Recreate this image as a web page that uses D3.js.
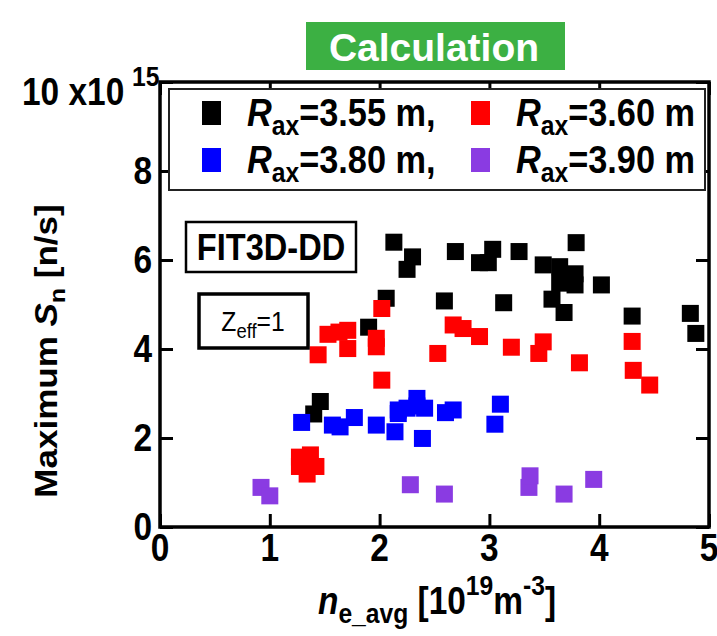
<!DOCTYPE html>
<html>
<head>
<meta charset="utf-8">
<script src="https://cdn.jsdelivr.net/npm/d3@7"></script>
<style>
  body { margin: 0; background: #fff; }
  svg { display: block; }
  text { font-family: "Liberation Sans", Arial, sans-serif; }
</style>
</head>
<body>
<div class="chart"></div>
<script>
// data: ne_avg [1e19 m^-3] vs maximum Sn [1e15 n/s]
var ne355 = [1.40,1.46,1.90,2.06,2.13,2.25,2.30,2.59,2.69,2.91,2.99,3.03,3.13,3.27,3.49,3.57,3.64,3.64,3.68,3.78,3.78,3.79,4.02,4.30,4.83,4.88];
var sn355 = [2.54,2.82,4.49,5.14,6.40,5.79,6.07,5.08,6.19,5.94,5.94,6.24,5.04,6.19,5.89,5.12,5.85,5.48,4.82,5.69,5.44,6.39,5.44,4.74,4.80,4.35];

var ne360 = [1.27,1.37,1.42,1.34,1.27,1.44,1.53,1.63,1.71,1.71,1.97,1.97,2.02,2.02,2.53,2.67,2.76,2.91,3.20,3.45,3.49,3.82,4.30,4.31,4.46];
var sn360 = [1.57,1.62,1.36,1.19,1.36,3.87,4.33,4.38,4.42,4.01,4.24,4.05,4.91,3.30,3.90,4.54,4.46,4.28,4.04,3.90,4.16,3.69,4.17,3.52,3.19];

var ne380 = [1.29,1.57,1.64,1.77,1.97,2.14,2.17,2.17,2.25,2.34,2.34,2.41,2.39,2.60,2.67,3.05,3.10];
var sn380 = [2.35,2.29,2.25,2.46,2.29,2.14,2.55,2.63,2.67,2.89,2.72,2.67,1.99,2.57,2.63,2.31,2.76];

var ne390 = [0.92,1.00,2.28,2.59,3.36,3.37,3.68,3.95];
var sn390 = [0.89,0.70,0.95,0.74,0.89,1.15,0.74,1.07];

var seriesNames = ["3.55 m,", "3.60 m", "3.80 m,", "3.90 m"];
var seriesColors = ["#000000", "#ff0000", "#0000ff", "#8a3be2"];
var xTicks = [0, 1, 2, 3, 4, 5];
var yTicks = [0, 2, 4, 6, 8, 10];

var width = 717, height = 636;
var pLeft = 160, pRight = 709, pTop = 82, pBottom = 527;
var sq = 0.88; // the figure's lettering is a bit narrow

var svg = d3.select(".chart")
    .append("svg")
    .attr("width", width)
    .attr("height", height);

function put(t, px, py) {
    return t.attr("transform", "translate(" + px + "," + py + ") scale(" + sq + ",1)");
}

var x = d3.scaleLinear().domain([0, 5]).range([pLeft, pRight]);
var y = d3.scaleLinear().domain([0, 10]).range([pBottom, pTop]);

// ticks point inward on all four sides
var tickLen = 13;
svg.append("g")
    .attr("transform", "translate(0," + pBottom + ")")
    .call(d3.axisBottom(x).tickValues(xTicks).tickSize(-tickLen).tickFormat(""));
svg.append("g")
    .attr("transform", "translate(0," + pTop + ")")
    .call(d3.axisTop(x).tickValues(xTicks).tickSize(-tickLen).tickFormat(""));
svg.append("g")
    .attr("transform", "translate(" + pLeft + ",0)")
    .call(d3.axisLeft(y).tickValues(yTicks).tickSize(-tickLen).tickFormat(""));
svg.append("g")
    .attr("transform", "translate(" + pRight + ",0)")
    .call(d3.axisRight(y).tickValues(yTicks).tickSize(-tickLen).tickFormat(""));
svg.selectAll(".domain").remove();
svg.selectAll(".tick line").attr("stroke", "#000").attr("stroke-width", 3);

svg.append("rect")
    .attr("x", pLeft).attr("y", pTop)
    .attr("width", pRight - pLeft).attr("height", pBottom - pTop)
    .attr("fill", "none").attr("stroke", "#000").attr("stroke-width", 3.5);

// tick labels
xTicks.forEach(function(d) {
    put(svg.append("text"), x(d), pBottom + 34)
        .attr("text-anchor", "middle")
        .style("font-size", "38px").style("font-weight", "bold")
        .text(d);
});
yTicks.slice(0, 5).forEach(function(d) {
    put(svg.append("text"), pLeft - 8, y(d) + 13)
        .attr("text-anchor", "end")
        .style("font-size", "38px").style("font-weight", "bold")
        .text(d);
});
put(svg.append("text"), 22, 105)
    .style("font-size", "38px").style("font-weight", "bold")
    .text("10 x10");
put(svg.append("text"), 132, 86)
    .style("font-size", "28px").style("font-weight", "bold")
    .text("15");

// points
var sets = [[ne355, sn355], [ne360, sn360], [ne380, sn380], [ne390, sn390]];
var sz = 17;
sets.forEach(function(s, i) {
    svg.append("g").selectAll("rect")
        .data(s[0].map(function(v, j) { return {x: v, y: s[1][j]}; }))
        .enter().append("rect")
        .attr("x", function(d) { return x(d.x) - sz / 2; })
        .attr("y", function(d) { return y(d.y) - sz / 2; })
        .attr("width", sz)
        .attr("height", sz)
        .attr("fill", seriesColors[i]);
});

// legend
svg.append("rect")
    .attr("x", 169).attr("y", 89).attr("width", 536).attr("height", 101)
    .attr("fill", "#fff").attr("stroke", "#222").attr("stroke-width", 2);
var legPos = [[202, 126], [471, 126], [202, 173], [471, 173]];
legPos.forEach(function(p, i) {
    svg.append("rect")
        .attr("x", p[0]).attr("y", p[1] - 25)
        .attr("width", 19).attr("height", 24)
        .attr("fill", seriesColors[i]);
    var t = put(svg.append("text"), p[0] + 45, p[1])
        .style("font-size", "39px").style("font-weight", "bold");
    t.append("tspan").style("font-style", "italic").text("R");
    t.append("tspan").attr("dy", 9).style("font-size", "28px").text("ax");
    t.append("tspan").attr("dy", -9).text("=" + seriesNames[i]);
});

// title box
svg.append("rect")
    .attr("x", 306).attr("y", 22).attr("width", 259).attr("height", 48)
    .attr("fill", "#3cb043");
svg.append("text")
    .attr("x", 434).attr("y", 61)
    .attr("text-anchor", "middle")
    .attr("fill", "#fff")
    .style("font-size", "39px").style("font-weight", "bold")
    .text("Calculation");

// annotation boxes
svg.append("rect")
    .attr("x", 186).attr("y", 222).attr("width", 170).attr("height", 50)
    .attr("fill", "#fff").attr("stroke", "#000").attr("stroke-width", 2.5);
put(svg.append("text"), 271, 260)
    .attr("text-anchor", "middle")
    .style("font-size", "37px").style("font-weight", "bold")
    .text("FIT3D-DD");

svg.append("rect")
    .attr("x", 199).attr("y", 294).attr("width", 109).attr("height", 54)
    .attr("fill", "#fff").attr("stroke", "#000").attr("stroke-width", 3.5);
var zt = put(svg.append("text"), 253, 331)
    .attr("text-anchor", "middle")
    .style("font-size", "28px");
zt.append("tspan").text("Z");
zt.append("tspan").attr("dy", 7).style("font-size", "21px").text("eff");
zt.append("tspan").attr("dy", -7).text("=1");

// axis titles
var xt = put(svg.append("text"), 437, 614)
    .attr("text-anchor", "middle")
    .style("font-size", "38px").style("font-weight", "bold");
xt.append("tspan").style("font-style", "italic").text("n");
xt.append("tspan").attr("dy", 9).style("font-size", "28px").text("e_avg");
xt.append("tspan").attr("dy", -9).text(" [10");
xt.append("tspan").attr("dy", -19).style("font-size", "28px").text("19");
xt.append("tspan").attr("dy", 19).text("m");
xt.append("tspan").attr("dy", -19).style("font-size", "28px").text("-3");
xt.append("tspan").attr("dy", 19).text("]");

var yt = svg.append("text")
    .attr("transform", "translate(57,351) scale(" + sq + ",1) rotate(-90)")
    .attr("text-anchor", "middle")
    .style("font-size", "35px").style("font-weight", "bold");
yt.append("tspan").text("Maximum ");
yt.append("tspan").style("font-style", "italic").text("S");
yt.append("tspan").attr("dy", 9).style("font-size", "25px").text("n");
yt.append("tspan").attr("dy", -9).text(" [n/s]");
</script>
</body>
</html>
